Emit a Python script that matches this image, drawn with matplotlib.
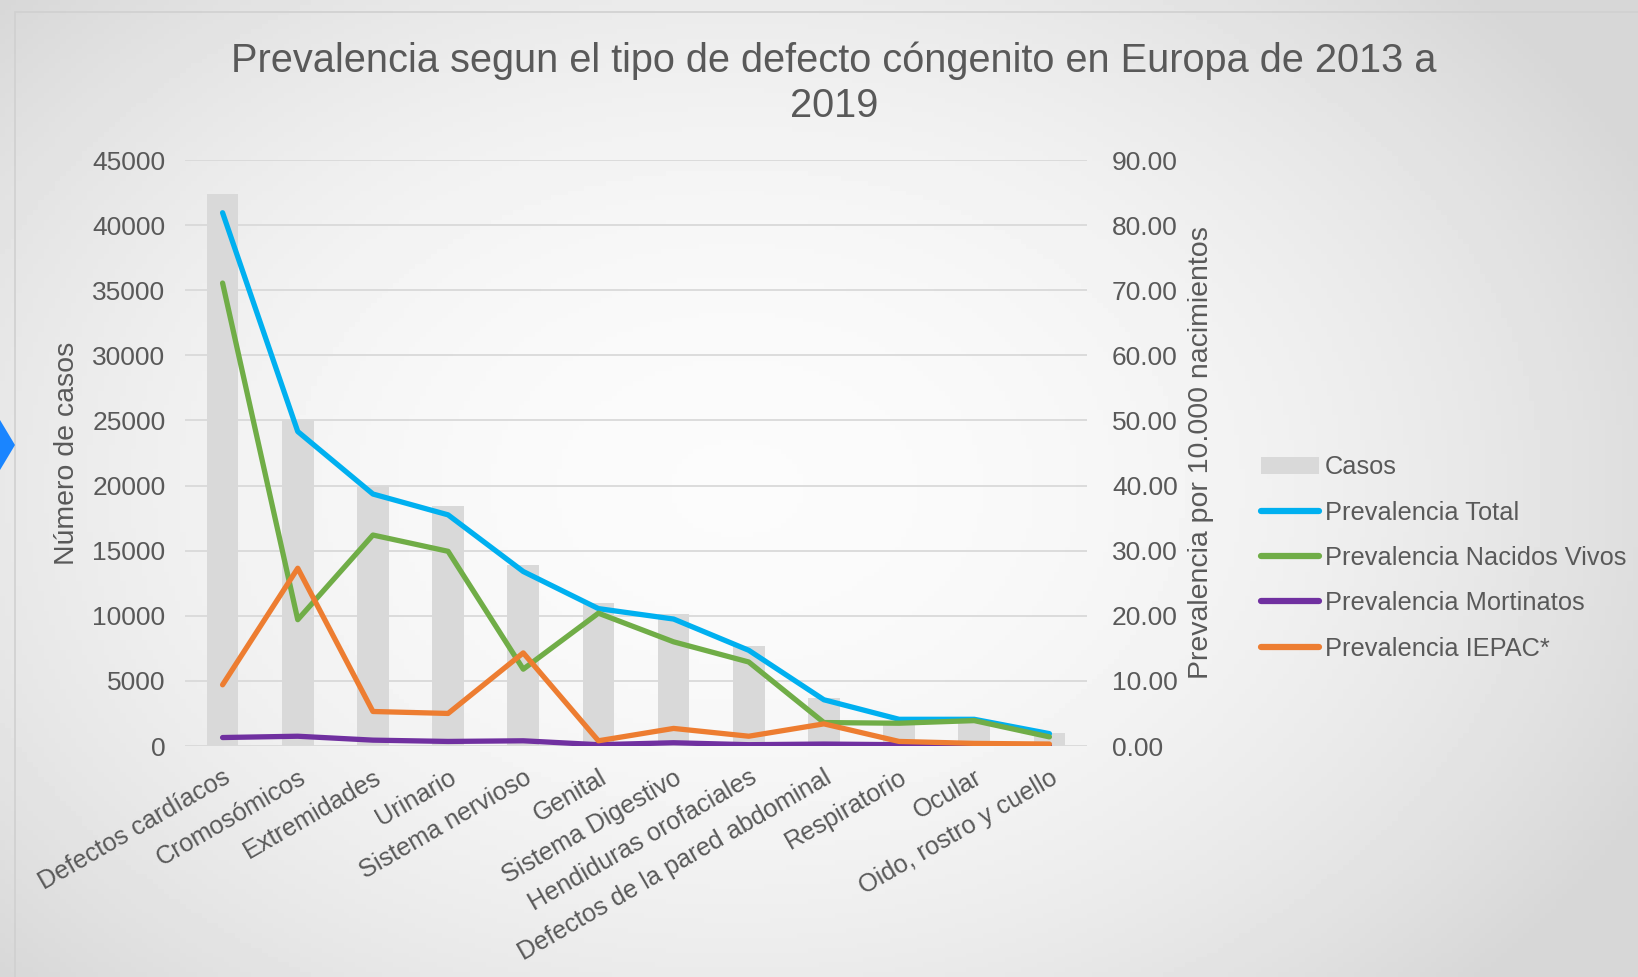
import numpy as np
import matplotlib
matplotlib.use("Agg")
import matplotlib.pyplot as plt
from matplotlib.patches import Patch, Rectangle, Polygon
from matplotlib.lines import Line2D

plt.rcParams['font.family'] = ['Liberation Sans', 'DejaVu Sans']

categorias = ["Defectos cardíacos", "Cromosómicos", "Extremidades", "Urinario",
              "Sistema nervioso", "Genital", "Sistema Digestivo",
              "Hendiduras orofaciales", "Defectos de la pared abdominal",
              "Respiratorio", "Ocular", "Oido, rostro y cuello"]
casos = [42400, 25000, 20000, 18400, 13900, 11000, 10100, 7700, 3650, 1900, 1900, 1000]
prev_total = [81.9, 48.3, 38.7, 35.5, 26.8, 21.1, 19.5, 14.7, 7.1, 4.1, 4.1, 1.9]
prev_vivos = [71.1, 19.4, 32.4, 29.9, 11.8, 20.4, 16.0, 12.9, 3.6, 3.5, 3.9, 1.4]
prev_mortinatos = [1.3, 1.5, 0.9, 0.7, 0.8, 0.2, 0.5, 0.2, 0.3, 0.2, 0.1, 0.1]
prev_iepac = [9.4, 27.3, 5.3, 5.0, 14.3, 0.8, 2.7, 1.5, 3.4, 0.7, 0.4, 0.3]

gris = "#595959"
c_bar = "#d9d9d9"
c_total = "#00b0f0"
c_vivos = "#70ad47"
c_mort = "#7030a0"
c_iepac = "#ed7d31"

fig = plt.figure(figsize=(16.38, 9.77), dpi=100)

# fondo degradado tipo diapositiva
bg = fig.add_axes([0, 0, 1, 1], zorder=-10)
yy, xx = np.mgrid[0:1:200j, 0:1:300j]
r2 = ((xx - 0.45) / 0.75) ** 2 + ((yy - 0.5) / 0.9) ** 2
val = np.clip(0.985 - 0.21 * r2, 0.84, 1)
bg.imshow(val, cmap="gray", vmin=0, vmax=1, aspect="auto", extent=[0, 1, 0, 1])
bg.axis("off")
fig.patches.append(Rectangle((15 / 1638, -0.1), 1.2, 1 - 12 / 977 + 0.1,
                             transform=fig.transFigure, fill=False,
                             edgecolor="#d0d0d0", lw=1.2))
fig.patches.append(Polygon([(0, 1 - 420 / 977), (15 / 1638, 1 - 445 / 977), (0, 1 - 470 / 977)],
                           closed=True, transform=fig.transFigure,
                           facecolor="#1a85ff", edgecolor="none"))

ax = fig.add_axes([185 / 1638, 1 - 746 / 977, 902 / 1638, 586 / 977])
ax.patch.set_alpha(0)
x = np.arange(len(categorias))
ax.bar(x, casos, width=0.42, color=c_bar, zorder=2)
ax.set_ylim(0, 45000)
ax.set_yticks(np.arange(0, 45001, 5000))
ax.set_xlim(-0.5, len(categorias) - 0.5)
ax.grid(axis="y", color="#d9d9d9", lw=1.3, zorder=0)
ax.set_axisbelow(True)
for s in ax.spines.values():
    s.set_visible(False)
ax.tick_params(length=0, labelsize=19, colors=gris, pad=14)
ax.set_xticks(x)
ax.set_xticklabels(categorias, rotation=30, ha="right", rotation_mode="anchor", fontsize=18.2)
ax.set_ylabel("Número de casos", fontsize=20.5, color=gris)
ax.yaxis.set_label_coords((80 - 185) / 902, 0.5)

ax2 = ax.twinx()
ax2.plot(x, prev_total, color=c_total, lw=3.8, solid_capstyle="round", zorder=3)
ax2.plot(x, prev_vivos, color=c_vivos, lw=3.8, solid_capstyle="round", zorder=3)
ax2.plot(x, prev_mortinatos, color=c_mort, lw=3.8, solid_capstyle="round", zorder=3)
ax2.plot(x, prev_iepac, color=c_iepac, lw=3.8, solid_capstyle="round", zorder=3)
ax2.set_ylim(0, 90)
ax2.set_yticks(np.arange(0, 91, 10))
ax2.set_yticklabels([f"{v:.2f}" for v in np.arange(0, 91, 10)])
for s in ax2.spines.values():
    s.set_visible(False)
ax2.tick_params(length=0, labelsize=19, colors=gris, pad=18)
ax2.set_ylabel("Prevalencia por 10.000 nacimientos", fontsize=20.5, color=gris)
ax2.yaxis.set_label_coords((1188 - 185) / 902, 0.5)

fig.text(834 / 1638, 1 - 83 / 977,
         "Prevalencia segun el tipo de defecto cóngenito en Europa de 2013 a\n2019",
         ha="center", va="center", fontsize=28.6, color=gris, linespacing=1.22)

handles = [Patch(facecolor=c_bar, edgecolor="none"),
           Line2D([], [], color=c_total, lw=4.5, solid_capstyle="round"),
           Line2D([], [], color=c_vivos, lw=4.5, solid_capstyle="round"),
           Line2D([], [], color=c_mort, lw=4.5, solid_capstyle="round"),
           Line2D([], [], color=c_iepac, lw=4.5, solid_capstyle="round")]
labels = ["Casos", "Prevalencia Total", "Prevalencia Nacidos Vivos",
          "Prevalencia Mortinatos", "Prevalencia IEPAC*"]
leg = fig.legend(handles, labels, loc="center left",
                 bbox_to_anchor=(1261 / 1638, 1 - 558 / 977), frameon=False,
                 fontsize=18.3, handlelength=2.3, handletextpad=0.2,
                 labelspacing=0.84, borderaxespad=0, borderpad=0)
for t in leg.get_texts():
    t.set_color(gris)

fig.savefig("out.png", dpi=100)
